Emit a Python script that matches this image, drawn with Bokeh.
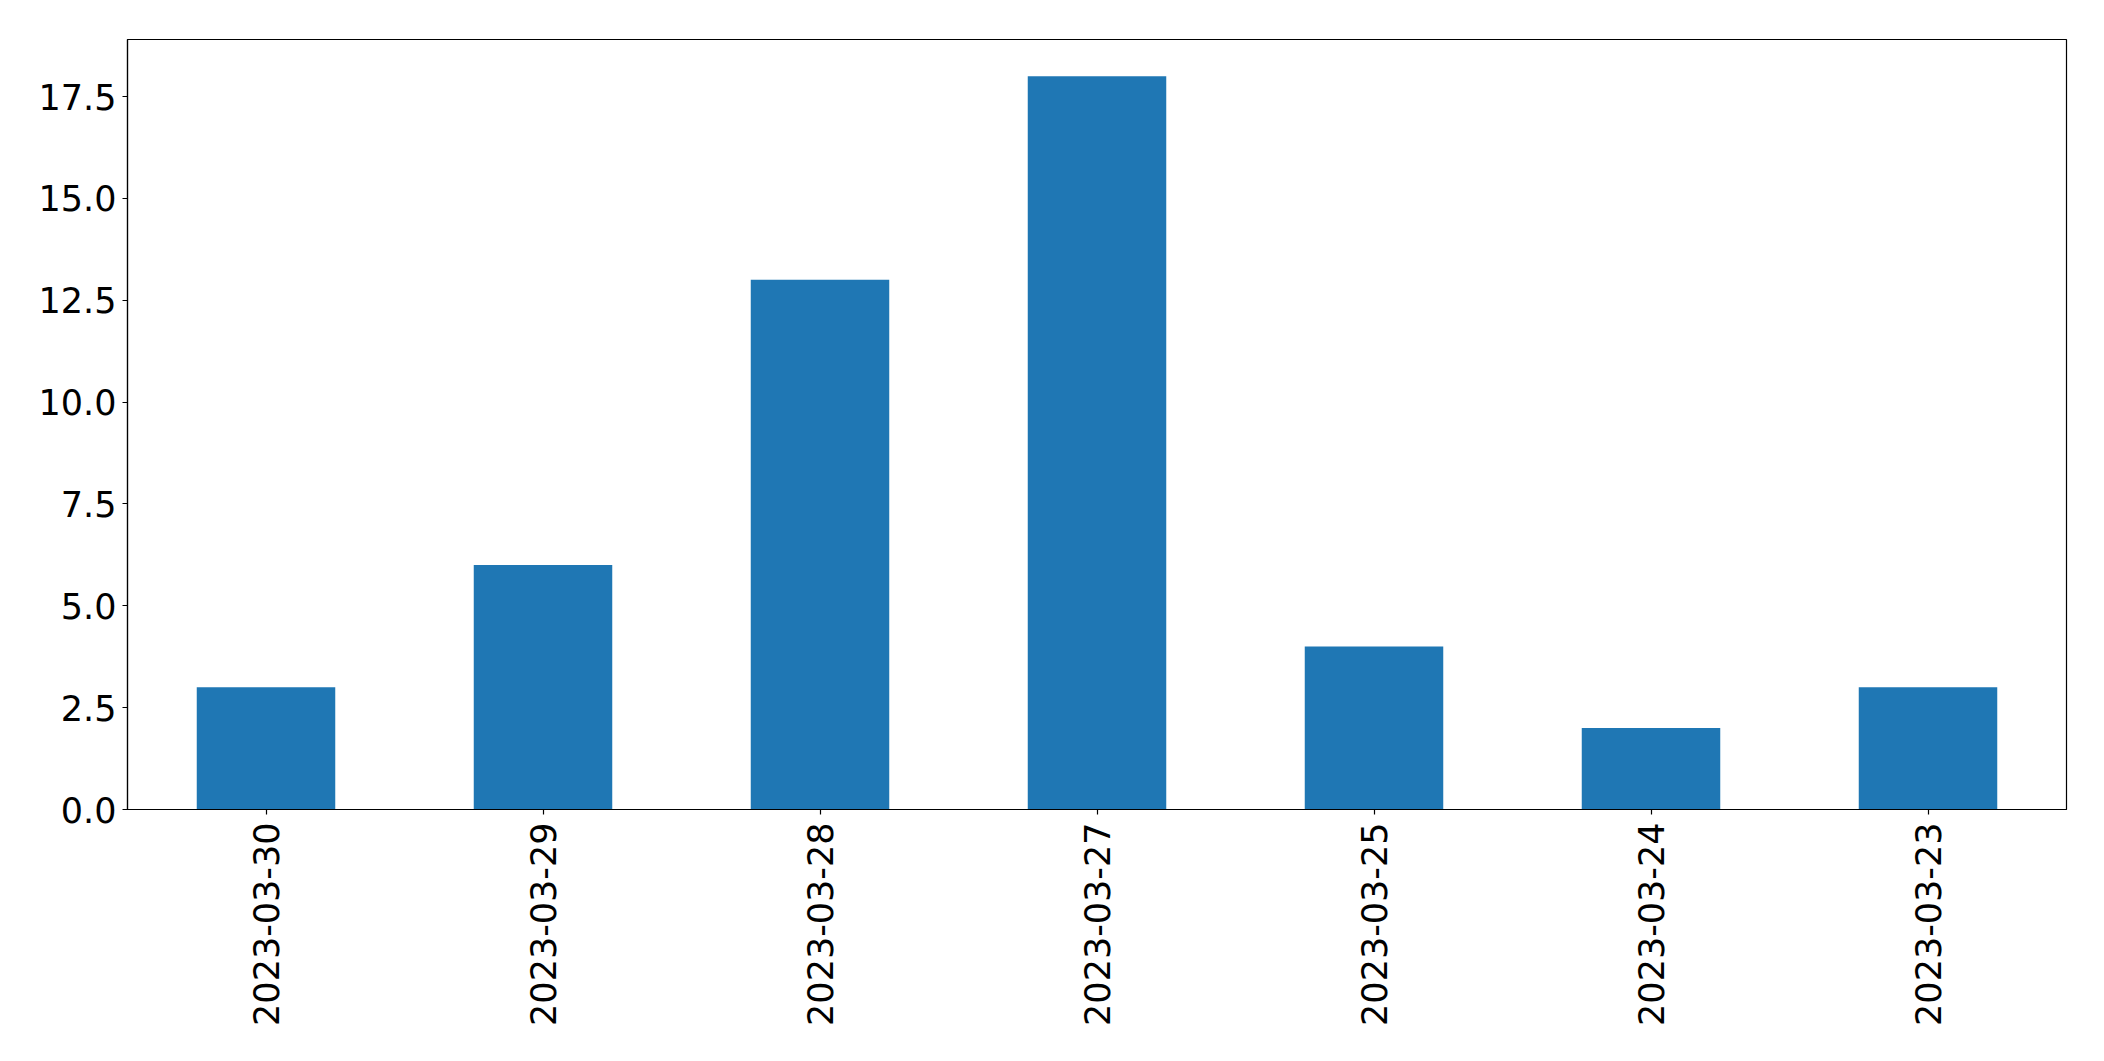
import math
from bokeh.plotting import figure
from bokeh.models import Range1d, FactorRange, FixedTicker, PrintfTickFormatter
from bokeh.embed import file_html
from bokeh.resources import INLINE

dates = ["2023-03-30", "2023-03-29", "2023-03-28", "2023-03-27",
         "2023-03-25", "2023-03-24", "2023-03-23"]
counts = [3, 6, 13, 18, 4, 2, 3]
y_ticks = [0.0, 2.5, 5.0, 7.5, 10.0, 12.5, 15.0, 17.5]

p = figure(width=2088, height=1048, output_backend="svg", toolbar_location=None,
           x_range=FactorRange(factors=dates), y_range=Range1d(0, 18.9),
           min_border_left=127, min_border_top=39, min_border_right=22,
           min_border_bottom=239)

p.vbar(x=dates, top=counts, width=0.5, fill_color="#1f77b4", line_color=None)

p.xgrid.visible = False
p.ygrid.visible = False
p.outline_line_color = "black"
p.outline_line_width = 1.2
p.outline_line_alpha = 1.0

for ax in (p.xaxis[0], p.yaxis[0]):
    ax.axis_line_color = "black"
    ax.axis_line_width = 1.2
    ax.major_tick_line_color = "black"
    ax.major_tick_line_width = 1.2
    ax.major_tick_out = 5
    ax.major_tick_in = 0
    ax.minor_tick_line_color = None
    ax.major_label_text_font = "DejaVu Sans"
    ax.major_label_text_font_size = "35px"
    ax.major_label_text_color = "black"

p.yaxis.ticker = FixedTicker(ticks=y_ticks)
p.yaxis.formatter = PrintfTickFormatter(format="%.1f")
p.yaxis.major_label_standoff = 6
p.xaxis.major_label_orientation = math.pi / 2
p.xaxis.major_label_standoff = 8

open("out.html", "w").write(file_html(p, INLINE))
